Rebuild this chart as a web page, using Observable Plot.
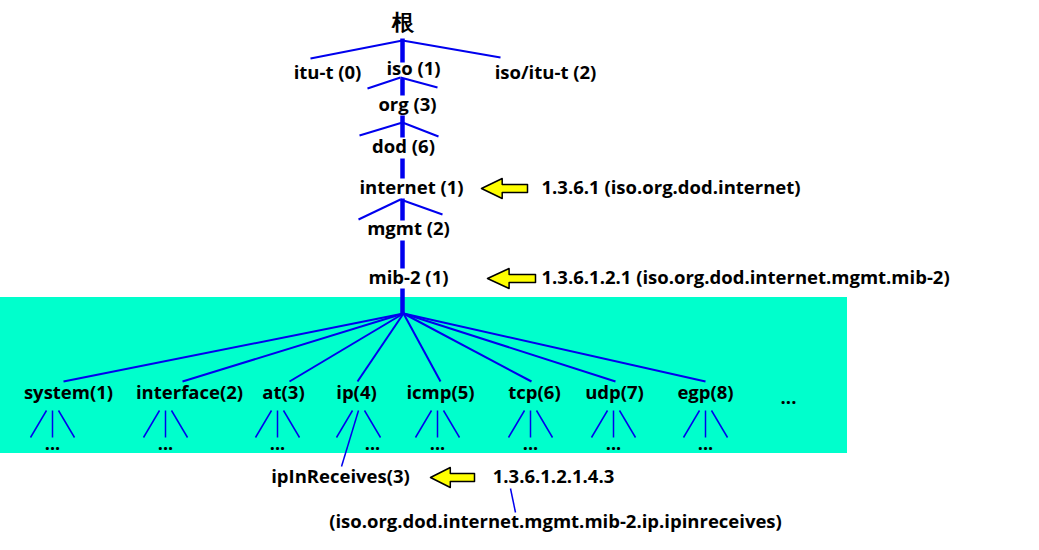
<!DOCTYPE html><html><head><meta charset="utf-8">
<script src="https://cdn.jsdelivr.net/npm/d3@7"></script>
<script src="https://cdn.jsdelivr.net/npm/@observablehq/plot@0.6"></script>
<style>body{margin:0;background:#fff}</style></head><body><div id="c"></div>
<script>
// top nodes
const topLabels = ["根","itu-t (0)","iso (1)","iso/itu-t (2)","org (3)","dod (6)","internet (1)","mgmt (2)","mib-2 (1)"];
const topX = [402,327,413,545,407,403,411,408,408];
const topY = [22,73,69,73,105,147,188,229,278];
// mib-2 children
const kids = ["system(1)","interface(2)","at(3)","ip(4)","icmp(5)","tcp(6)","udp(7)","egp(8)","..."];
const kidX = [68,189,283,356,440,534,614,705,788];
const kidEndX = [63,182,289,357,440,531,615,705];
const subX = [52,165,277,358,437,530,613,705];
// thick trunk segments [y1,y2]
const trunk = [[38,62],[78,95],[115,137],[158,178],[198,220],[240,268],[288,313]];
// fans: origin and two ends
const fans = [[402,40,310,58,500,57],[400,77,367,88,437,87],[402,122,359,135,438,136],[400,199,358,219,442,214]];
const hub = [403,313];
const annotations = [["1.3.6.1 (iso.org.dod.internet)",541,188],["1.3.6.1.2.1 (iso.org.dod.internet.mgmt.mib-2)",541,278]];
const arrowTips = [[481,188,527],[487,278,535],[430,477,474]];

const segs = [];
trunk.forEach(([a,b])=>segs.push({x1:402,y1:a,x2:402,y2:b,w:4.5}));
fans.forEach(([x,y,ax,ay,bx,by])=>{segs.push({x1:x,y1:y,x2:ax,y2:ay,w:2});segs.push({x1:x,y1:y,x2:bx,y2:by,w:2});});
kidEndX.forEach(x=>segs.push({x1:hub[0],y1:hub[1],x2:x,y2:381,w:2}));
subX.forEach((c,i)=>{
  segs.push({x1:c-6,y1:410,x2:c-22,y2:437,w:1.5});
  segs.push({x1:c,y1:410,x2:(i===3?341:c),y2:(i===3?466:437),w:1.5});
  segs.push({x1:c+6,y1:410,x2:c+22,y2:437,w:1.5});
});
segs.push({x1:510,y1:488,x2:515,y2:512,w:1.5});
const dots = subX.map((c,i)=>({x:i===3?372:c,y:444,t:"..."}));
const arrows = [];
arrowTips.forEach(([tx,y,ex],k)=>{
  const L=ex-tx, h=L*0.45;
  [[tx,y],[tx+h,y-10],[tx+h,y-4],[ex,y-4],[ex,y+4],[tx+h,y+4],[tx+h,y+10],[tx,y]].forEach(([x,yy])=>arrows.push({x,y:yy,k}));
});
const centered = [
  ...topLabels.map((t,i)=>({t,x:topX[i],y:topY[i],s:i===0?22:18.5})),
  ...kids.map((t,i)=>({t,x:kidX[i],y:i===8?398:393,s:18.5})),
  {t:"ipInReceives(3)",x:340,y:477,s:18.5},
  {t:"1.3.6.1.2.1.4.3",x:553,y:477,s:18.5},
  {t:"(iso.org.dod.internet.mgmt.mib-2.ip.ipinreceives)",x:555,y:522,s:18.5}
];
const starts = annotations.map(([t,x,y])=>({t,x,y}));
const chart = Plot.plot({
  width:1039,height:550,margin:0,
  x:{domain:[0,1039],axis:null},y:{domain:[550,0],axis:null},
  style:{fontFamily:"'Open Sans',sans-serif",background:"#fff"},
  marks:[
    Plot.rect([{x1:0,x2:847,y1:297,y2:453}],{x1:"x1",x2:"x2",y1:"y1",y2:"y2",fill:"#00FFCC"}),
    Plot.link(segs,{x1:"x1",y1:"y1",x2:"x2",y2:"y2",stroke:"#0000EE",strokeWidth:"w"}),
    Plot.line(arrows,{x:"x",y:"y",z:"k",fill:"#FFFF00",stroke:"#000",strokeWidth:1.5}),
    Plot.text(centered,{x:"x",y:"y",text:"t",textAnchor:"middle",fontSize:"s",fontWeight:"bold",fill:"#000"}),
    Plot.text(starts,{x:"x",y:"y",text:"t",textAnchor:"start",fontSize:18.5,fontWeight:"bold",fill:"#000"}),
    Plot.text(dots,{x:"x",y:"y",text:"t",fontSize:18,fontWeight:"bold",fill:"#000"})
  ]
});
document.getElementById("c").append(chart);
</script></body></html>
